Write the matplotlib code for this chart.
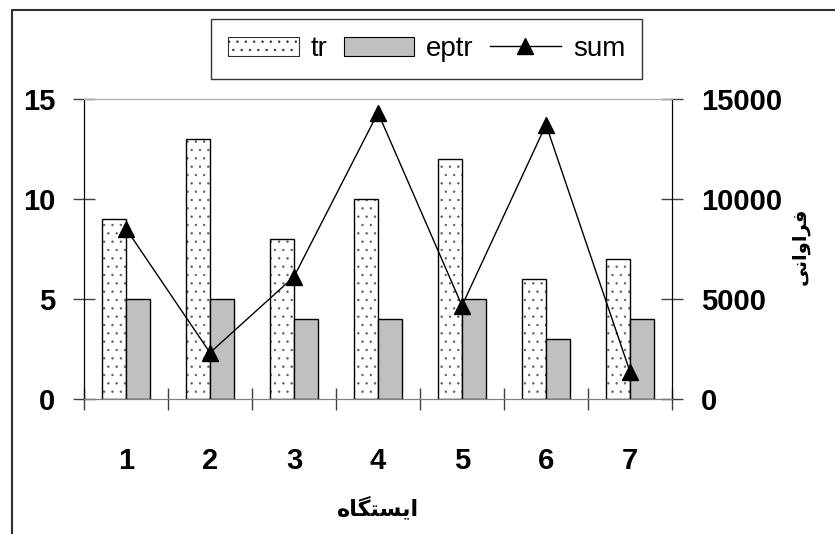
import matplotlib.pyplot as plt
from matplotlib.patches import Patch
from matplotlib.lines import Line2D

# datos por estación
estaciones = [1, 2, 3, 4, 5, 6, 7]
tr = [9, 13, 8, 10, 12, 6, 7]
eptr = [5, 5, 4, 4, 5, 3, 4]
suma = [8500, 2300, 6100, 14300, 4650, 13700, 1350]

# textos en persa ya en formas de presentación (orden visual)
etiqueta_x = "\uFEE9\uFE8E\uFB95\uFE98\uFEB4\uFEF3\uFE8D"   # ایستگاه
etiqueta_y = "\uFEF0\uFEE7\uFE8D\uFEED\uFE8D\uFEAE\uFED3"   # فراوانی

plt.rcParams['font.family'] = ['Liberation Sans', 'DejaVu Sans']
plt.rcParams['hatch.linewidth'] = 0.5

fig = plt.figure(figsize=(8.35, 5.34), dpi=100)
W, H = 835, 534
ax = fig.add_axes([84 / W, 1 - 398.7 / H, (672 - 84) / W, 300 / H])
ax2 = ax.twinx()

ancho = 0.29
x_tr = [e - ancho / 2 for e in estaciones]
x_ep = [e + ancho / 2 for e in estaciones]
# relleno punteado en gris y contorno negro encima
ax.bar(x_tr, tr, width=ancho, color='white', edgecolor='#606060', linewidth=0,
       hatch='..', zorder=2)
ax.bar(x_tr, tr, width=ancho, fill=False, edgecolor='black', linewidth=1,
       zorder=2)
ax.bar(x_ep, eptr, width=ancho, color='#c0c0c0', edgecolor='black',
       linewidth=1, zorder=2)
ax2.plot(estaciones, suma, color='black', linewidth=1, marker='^',
         markersize=12, zorder=3)

ax.set_xlim(0.5, 7.5)
ax.set_ylim(0, 15)
ax2.set_ylim(0, 15000)
ax.set_yticks([0, 5, 10, 15])
ax2.set_yticks([0, 5000, 10000, 15000])
ax.set_xticks(estaciones)
ax.set_xticks([i + 0.5 for i in range(8)], minor=True)

fuente_ticks = dict(fontsize=21, fontweight='bold')
ax.set_xticklabels([str(e) for e in estaciones], **fuente_ticks)
ax.set_yticklabels(['0', '5', '10', '15'], **fuente_ticks)
ax2.set_yticklabels(['0', '5000', '10000', '15000'], **fuente_ticks)

ax.tick_params(axis='x', which='major', length=0, pad=35)
ax.tick_params(axis='x', which='minor', direction='inout', length=16.5,
               color='#404040', width=1)
ax.tick_params(axis='y', direction='inout', length=16.5, pad=12.6,
               color='#404040', width=1)
ax2.tick_params(axis='y', direction='inout', length=16.5, pad=12.6,
                color='#404040', width=1)

for a in (ax, ax2):
    a.spines['top'].set_color('#b0b0b0')
    a.spines['bottom'].set_color('#808080')
    a.spines['left'].set_color('black')
    a.spines['right'].set_color('black')

fig.text(378 / W, 1 - 508 / H, etiqueta_x, ha='center', va='center',
         fontsize=16, fontweight='bold', family='DejaVu Sans')
fig.text(800 / W, 1 - 246 / H, etiqueta_y, ha='center', va='center',
         rotation=90, fontsize=14, fontweight='bold', family='DejaVu Sans')

# marco exterior del gráfico
fig.add_artist(Line2D([12 / W, 12 / W, 1], [0, 1 - 10 / H, 1 - 10 / H],
                      transform=fig.transFigure, color='#303030',
                      linewidth=1.5))

manejadores = [
    Patch(facecolor='white', edgecolor='#303030', hatch='..', linewidth=0.8),
    Patch(facecolor='#c0c0c0', edgecolor='black', linewidth=0.8),
    Line2D([], [], color='black', linewidth=1, marker='^', markersize=12),
]
leg = fig.legend(manejadores, ['tr', 'eptr', 'sum'], ncol=3, loc='center',
                 bbox_to_anchor=(426.5 / W, 1 - 49 / H), fontsize=20,
                 frameon=True, fancybox=False, edgecolor='black',
                 handlelength=2.55, handletextpad=0.43, columnspacing=0.58,
                 borderpad=0.6)
leg.get_frame().set_linewidth(1)

fig.savefig('out.png', dpi=100)
